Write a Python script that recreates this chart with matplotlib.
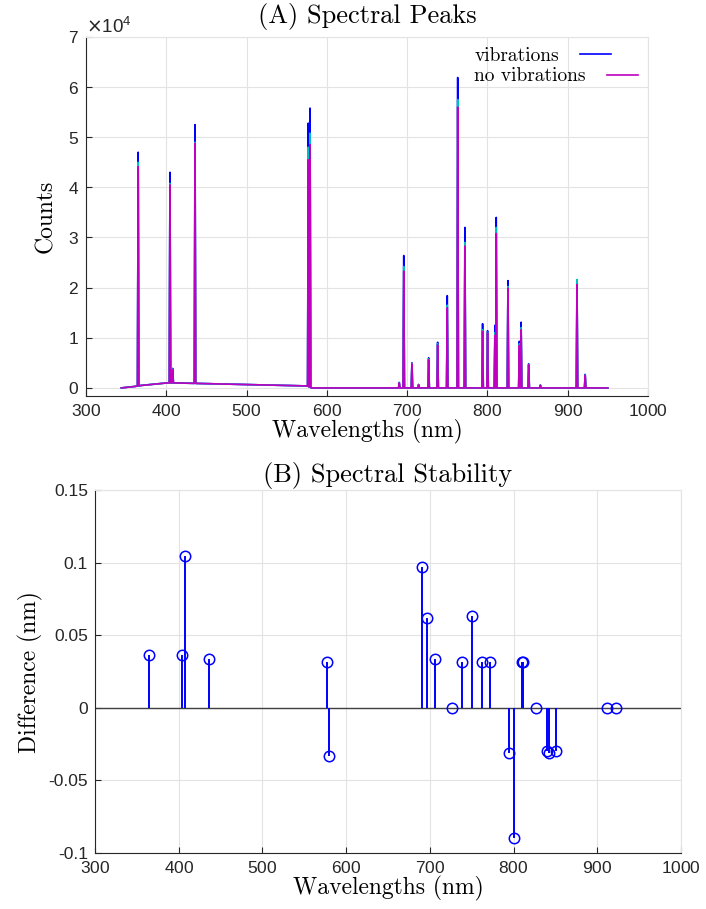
import numpy as np
import matplotlib.pyplot as plt
from matplotlib.ticker import ScalarFormatter

# picos del espectro (nm) y cuentas en la cima para cada serie
peak_wl = [365.0, 404.6, 408.0, 435.8, 576.9, 579.1, 690.2, 695.8, 706.0, 714.3,
           726.8, 738.0, 750.0, 763.0, 772.0, 794.0, 800.2, 809.4, 811.0, 825.6,
           839.8, 842.0, 851.4, 866.0, 911.6, 921.8]
peak_vib = [47000, 43000, 3900, 52500, 52800, 55800, 1100, 26400, 5000, 700,
            6000, 9100, 18400, 61900, 32000, 12800, 11400, 12500, 34000, 21400,
            9300, 13100, 4800, 600, 21400, 2700]
peak_mid = [45000, 40800, 3800, 49000, 48000, 50800, 1050, 24200, 4900, 650,
            5800, 8800, 16500, 57500, 29000, 11600, 11100, 11000, 32000, 20200,
            8800, 12000, 4700, 550, 21600, 2600]
peak_novib = [44100, 40500, 3700, 48800, 45500, 48500, 1000, 23300, 4800, 600,
              5600, 8600, 16000, 56000, 28300, 11300, 11000, 10500, 30800, 19900,
              8500, 11600, 4600, 500, 20600, 2500]

# fondo del espectro
base_wl = [344, 361, 369, 401, 411, 575, 581, 950]
base_counts = [0, 300, 500, 1000, 1000, 400, 0, 0]

# diferencias de la estabilidad espectral
stem_wl = [364.9, 404.3, 407.9, 435.8, 576.6, 579.0, 690.3, 696.6, 706.6, 726.9,
           738.1, 750.0, 762.8, 772.3, 794.3, 800.3, 809.9, 811.5, 826.2, 840.2,
           842.6, 851.2, 912.0, 922.8]
stem_diff = [0.0368, 0.0368, 0.105, 0.0334, 0.0318, -0.0332, 0.0968, 0.0618, 0.0334, 0.0,
             0.0318, 0.0634, 0.0318, 0.0318, -0.0314, -0.0897, 0.0318, 0.0318, 0.0, -0.0298,
             -0.0314, -0.0298, 0.0, 0.0]

x_ticks = [300, 400, 500, 600, 700, 800, 900, 1000]
diff_ticks = [-0.1, -0.05, 0, 0.05, 0.1, 0.15]
diff_labels = ['-0.1', '-0.05', '0', '0.05', '0.1', '0.15']

serif = 'cmr10'
plt.rcParams['font.family'] = ['Liberation Sans', 'DejaVu Sans']
plt.rcParams['axes.formatter.use_mathtext'] = True


def spectrum(heights, hw=0.9):
    # cada pico como un triángulo estrecho sobre el fondo
    xs = list(base_wl)
    ys = list(base_counts)
    for c, h in zip(peak_wl, heights):
        for x, y in ((c - hw, None), (c, h), (c + hw, None)):
            xs.append(x)
            ys.append(np.interp(x, base_wl, base_counts) if y is None else y)
    order = np.argsort(xs, kind='stable')
    return np.array(xs)[order], np.array(ys)[order]


def style(ax):
    ax.grid(True, color='#e3e3e3', linewidth=0.8)
    ax.set_axisbelow(True)
    for s in ['top', 'right']:
        ax.spines[s].set_color('#e3e3e3')
    for s in ['left', 'bottom']:
        ax.spines[s].set_color('#262626')
    ax.tick_params(direction='in', length=4, labelsize=12.5, colors='#262626',
                   top=False, right=False, pad=5)


fig = plt.figure(figsize=(7.06, 9.09), dpi=100)

# (A) picos espectrales
ax1 = fig.add_axes([0.1218, 0.5644, 0.796, 0.395])
for h, col, lab in [(peak_vib, 'b', 'vibrations'), (peak_mid, 'c', None),
                    (peak_novib, 'm', 'no vibrations')]:
    x, y = spectrum(h)
    ax1.plot(x, y, color=col, linewidth=1.2, label=lab)
ax1.set_xlim(300, 1000)
ax1.set_ylim(-1600, 70000)
ax1.set_xticks(x_ticks)
ax1.set_yticks(np.arange(0, 70001, 10000))
fmt = ScalarFormatter(useMathText=True)
fmt.set_powerlimits((0, 0))
ax1.yaxis.set_major_formatter(fmt)
ax1.yaxis.get_offset_text().set_fontsize(13.5)
ax1.yaxis.get_offset_text().set_color('#262626')
style(ax1)
ax1.set_title('(A) Spectral Peaks', fontfamily=serif, fontsize=19, pad=10)
ax1.set_xlabel('Wavelengths (nm)', fontfamily=serif, fontsize=17, labelpad=0)
ax1.set_ylabel('Counts', fontfamily=serif, fontsize=17, labelpad=8)
leg = ax1.legend(loc='upper right', frameon=False, markerfirst=False,
                 prop={'family': serif, 'size': 14}, handlelength=1.6,
                 handletextpad=1.1, borderaxespad=0.1, labelspacing=0.15)
# texto alineado a la izquierda, como en la figura original
for col in leg._legend_handle_box.get_children():
    col.align = 'left'

# (B) estabilidad espectral
ax2 = fig.add_axes([0.1346, 0.0616, 0.830, 0.399])
ax2.axhline(0, color='#404040', linewidth=1.0)
ml, sl, bl = ax2.stem(stem_wl, stem_diff, linefmt='b-', markerfmt='bo', basefmt=' ')
ml.set_markerfacecolor('none')
ml.set_markersize(7.5)
ml.set_markeredgewidth(1.1)
sl.set_linewidth(1.4)
ax2.set_xlim(300, 1000)
ax2.set_ylim(-0.1, 0.15)
ax2.set_xticks(x_ticks)
ax2.set_yticks(diff_ticks)
ax2.set_yticklabels(diff_labels)
style(ax2)
ax2.set_title('(B) Spectral Stability', fontfamily=serif, fontsize=19, pad=6)
ax2.set_xlabel('Wavelengths (nm)', fontfamily=serif, fontsize=17, labelpad=0)
ax2.set_ylabel('Difference (nm)', fontfamily=serif, fontsize=17, labelpad=4)

fig.savefig('out.png', dpi=100)
